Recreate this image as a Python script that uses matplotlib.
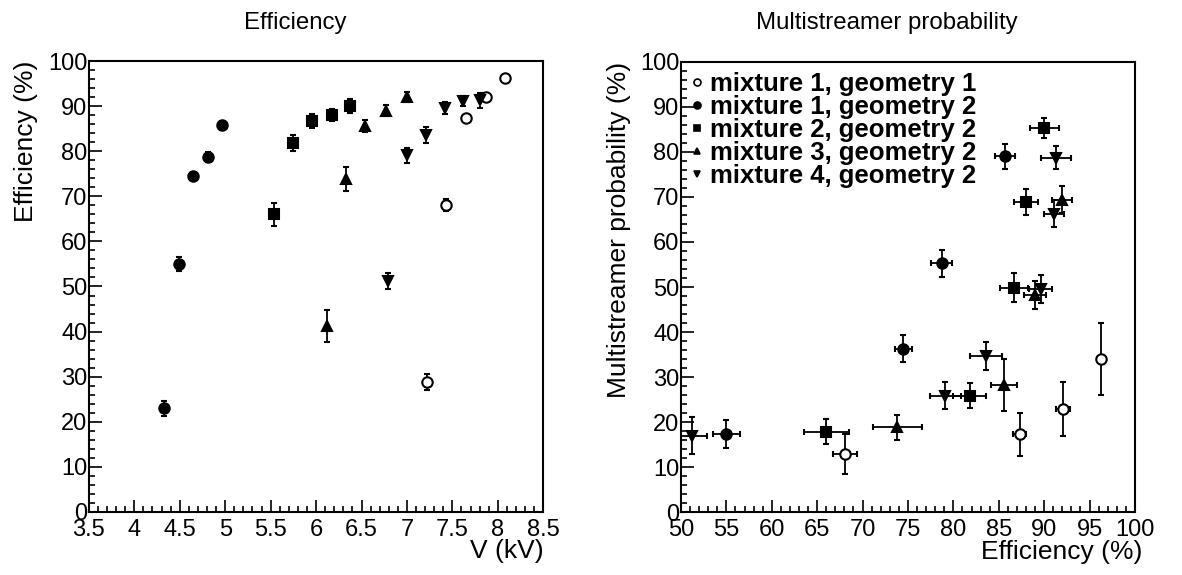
import numpy as np
import matplotlib
matplotlib.use('Agg')
from matplotlib import pyplot as plt
from matplotlib.lines import Line2D
from matplotlib.ticker import MultipleLocator, FuncFormatter

plt.rcParams['font.family'] = ['Liberation Sans', 'DejaVu Sans']

nan = np.nan

labels = ['mixture 1, geometry 1', 'mixture 1, geometry 2', 'mixture 2, geometry 2',
          'mixture 3, geometry 2', 'mixture 4, geometry 2']

# applied voltage (kV)
volt_m1g1 = [7.22, 7.43, 7.65, 7.87, 8.08]
volt_m1g2 = [4.33, 4.49, 4.65, 4.81, 4.97]
volt_m2g2 = [5.54, 5.75, 5.96, 6.17, 6.37]
volt_m3g2 = [6.12, 6.33, 6.54, 6.77, 7.00]
volt_m4g2 = [6.79, 7.00, 7.21, 7.42, 7.62, 7.80]

# efficiency (%) and its error
eff_m1g1 = [28.9, 68.1, 87.3, 92.1, 96.3]
eff_m1g2 = [23.0, 55.0, 74.5, 78.7, 85.7]
eff_m2g2 = [66.0, 81.8, 86.7, 88.0, 90.0]
eff_m3g2 = [41.2, 73.8, 85.6, 89.0, 92.0]
eff_m4g2 = [51.2, 79.1, 83.6, 89.6, 91.1, 91.3]

eff_err_m1g1 = [1.8, 1.3, 0.7, 0.8, 0.5]
eff_err_m1g2 = [1.7, 1.5, 0.9, 1.2, 1.1]
eff_err_m2g2 = [2.5, 1.8, 1.55, 1.3, 1.6]
eff_err_m3g2 = [3.5, 2.7, 1.4, 1.2, 1.1]
eff_err_m4g2 = [1.7, 1.7, 1.8, 1.3, 1.1, 1.7]

# multistreamer probability (%) and its error (nan = not shown)
ms_m1g1 = [nan, 12.9, 17.3, 23.0, 34.0]
ms_m1g2 = [nan, 17.4, 36.3, 55.3, 79.0]
ms_m2g2 = [17.9, 25.9, 49.8, 68.9, 85.2]
ms_m3g2 = [nan, 18.9, 28.3, 48.2, 69.4]
ms_m4g2 = [17.0, 25.9, 34.7, 49.5, 66.2, 78.7]

ms_err_m1g1 = [nan, 4.4, 4.8, 6.0, 8.0]
ms_err_m1g2 = [nan, 3.0, 3.0, 3.0, 2.8]
ms_err_m2g2 = [2.8, 2.8, 3.2, 2.9, 2.2]
ms_err_m3g2 = [nan, 2.8, 5.7, 3.1, 2.9]
ms_err_m4g2 = [4.1, 3.0, 3.1, 3.1, 3.0, 2.5]

volts = [volt_m1g1, volt_m1g2, volt_m2g2, volt_m3g2, volt_m4g2]
effs = [eff_m1g1, eff_m1g2, eff_m2g2, eff_m3g2, eff_m4g2]
eff_errs = [eff_err_m1g1, eff_err_m1g2, eff_err_m2g2, eff_err_m3g2, eff_err_m4g2]
mss = [ms_m1g1, ms_m1g2, ms_m2g2, ms_m3g2, ms_m4g2]
ms_errs = [ms_err_m1g1, ms_err_m1g2, ms_err_m2g2, ms_err_m3g2, ms_err_m4g2]

markers = ['o', 'o', 's', '^', 'v']
faces = ['white', 'black', 'black', 'black', 'black']
sizes = [7.5, 7.5, 6.5, 6.5, 6.5]

fig = plt.figure(figsize=(11.82, 5.75), dpi=100)
ax_l = fig.add_axes([0.0752, 0.1096, 0.3844, 0.7843])
ax_r = fig.add_axes([0.5761, 0.1087, 0.3841, 0.7843])

fmt_g = FuncFormatter(lambda v, p: f'{v:g}')

def style_axis(ax, xmajor, xminor):
    ax.set_ylim(0, 100)
    ax.yaxis.set_major_locator(MultipleLocator(10))
    ax.yaxis.set_minor_locator(MultipleLocator(2))
    ax.xaxis.set_major_locator(MultipleLocator(xmajor))
    ax.xaxis.set_minor_locator(MultipleLocator(xminor))
    ax.xaxis.set_major_formatter(fmt_g)
    ax.tick_params(which='both', direction='in', top=False, right=False,
                   labelsize=17, width=1.2)
    ax.tick_params(which='major', length=9)
    ax.tick_params(which='minor', length=4.5)
    ax.tick_params(axis='y', pad=1)
    ax.tick_params(axis='x', pad=5)
    for s in ax.spines.values():
        s.set_linewidth(1.5)

# left: efficiency vs voltage
for v, e, ee, m, fc, sz in zip(volts, effs, eff_errs, markers, faces, sizes):
    ax_l.errorbar(v, e, yerr=ee, fmt=m, mfc=fc, mec='black', mew=1.5, ms=sz,
                  ecolor='black', elinewidth=1.3, capsize=2, capthick=1.3)
ax_l.set_xlim(3.5, 8.5)
style_axis(ax_l, 0.5, 0.1)
ax_l.set_xlabel('V (kV)', fontsize=19, loc='right')
ax_l.set_ylabel('Efficiency (%)', fontsize=19, loc='top')
ax_l.xaxis.set_label_coords(1.0, -0.06)
ax_l.yaxis.set_label_coords(-0.112, 1.0)

# right: multistreamer probability vs efficiency
for e, ee, p, pe, m, fc, sz in zip(effs, eff_errs, mss, ms_errs, markers, faces, sizes):
    ax_r.errorbar(e, p, xerr=ee, yerr=pe, fmt=m, mfc=fc, mec='black', mew=1.5, ms=sz,
                  ecolor='black', elinewidth=1.3, capsize=2, capthick=1.3)
ax_r.set_xlim(50, 100)
style_axis(ax_r, 5, 1)
ax_r.set_xlabel('Efficiency (%)', fontsize=19, loc='right')
ax_r.set_ylabel('Multistreamer probability (%)', fontsize=19, loc='top')
ax_r.xaxis.set_label_coords(1.017, -0.06)
ax_r.yaxis.set_label_coords(-0.11, 1.0)

handles = [Line2D([], [], ls='none', marker=m, mfc=fc, mec='black', mew=1.2, ms=5)
           for m, fc in zip(markers, faces)]
ax_r.legend(handles, labels, loc='upper left', bbox_to_anchor=(0.008, 0.988),
            frameon=False, prop={'weight': 'bold', 'size': 18.5},
            handlelength=0.6, handletextpad=0.2, labelspacing=-0.04,
            borderaxespad=0.0, borderpad=0.2)

fig.text(0.25, 1 - 23 / 575, 'Efficiency', ha='center', va='center', fontsize=17.3)
fig.text(0.75, 1 - 23 / 575, 'Multistreamer probability', ha='center', va='center', fontsize=17.3)

fig.savefig('out.png', dpi=100)
